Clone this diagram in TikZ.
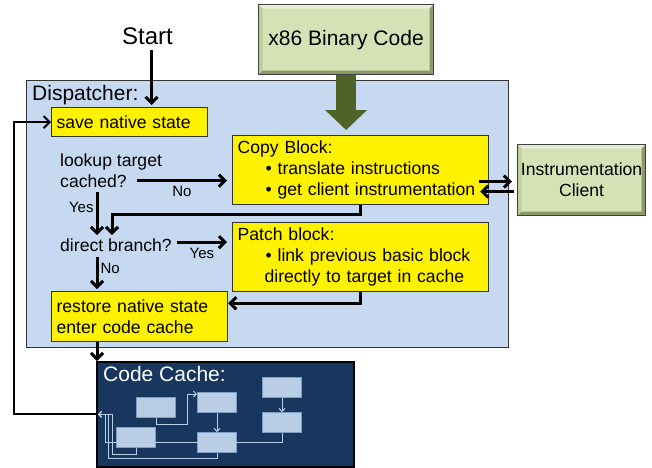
\documentclass[tikz,border=0pt]{standalone}
\usepackage{fontspec}
\setmainfont{Liberation Sans}
\usetikzlibrary{arrows.meta,positioning,calc}
\definecolor{dispblue}{HTML}{C6D9F1}
\definecolor{clientgreen}{HTML}{D5E2B5}
\definecolor{bevellight}{HTML}{E6EDD3}
\definecolor{bevelside}{HTML}{BFCF98}
\definecolor{beveldark}{HTML}{8A9968}
\definecolor{arrowolive}{HTML}{4F6228}
\definecolor{cachenavy}{HTML}{17375E}
\definecolor{blockblue}{HTML}{B9CDE5}
\definecolor{blockedge}{HTML}{7E9DC6}
\tikzset{
  bodytext/.style={font=\fontsize{17.6}{21}\selectfont},
  headtext/.style={font=\fontsize{21}{25}\selectfont},
  stepbox/.style={draw=black!80,line width=1.2pt,fill=yellow,bodytext,
    align=left,inner xsep=5pt,inner ysep=0pt,anchor=north west},
  bevel/.style={path picture={
    \coordinate (bnw) at (path picture bounding box.north west);
    \coordinate (bne) at (path picture bounding box.north east);
    \coordinate (bsw) at (path picture bounding box.south west);
    \coordinate (bse) at (path picture bounding box.south east);
    \fill[bevellight] (bnw) -- (bne) -- ([shift={(-#1,-#1)}]bne) -- ([shift={(#1,-#1)}]bnw) -- cycle;
    \fill[bevelside] (bnw) -- (bsw) -- ([shift={(#1,#1)}]bsw) -- ([shift={(#1,-#1)}]bnw) -- cycle;
    \fill[beveldark] (bne) -- (bse) -- ([shift={(-#1,#1)}]bse) -- ([shift={(-#1,-#1)}]bne) -- cycle;
    \fill[beveldark] (bsw) -- (bse) -- ([shift={(-#1,#1)}]bse) -- ([shift={(#1,#1)}]bsw) -- cycle;
  }},
  sourcebox/.style={draw=black!75,line width=1.2pt,fill=clientgreen,bevel=4pt,
    align=center,inner sep=2pt,anchor=north west},
  flow/.style={-{Straight Barb[length=6pt,width=12pt]},line width=3pt},
  answer/.style={font=\fontsize{15}{17}\selectfont,inner sep=1pt}
}

\begin{document}
\begin{tikzpicture}[x=1pt,y=-1pt,
  question/.style={bodytext,inner sep=0pt,anchor=base west},
  fragment/.style={draw=blockedge,line width=1pt,fill=blockblue,inner sep=0pt,
    minimum width=39pt,minimum height=20pt,anchor=north west},
  link/.style={draw=blockblue,line width=0.9pt,-{Straight Barb[length=3pt,width=6pt]}}
]
  \useasboundingbox (0,0) rectangle (652,467);

  \node[draw=black!80,line width=1.2pt,fill=dispblue,minimum width=482pt,minimum height=267pt,
    anchor=north west] (dispatcher) at (26,80) {};
  \node[headtext,inner sep=0pt,anchor=base west] (displabel) at (32,100) {Dispatcher:};

  \node[font=\fontsize{24}{28}\selectfont,inner sep=0pt,anchor=base west] (start) at (122,44) {Start};
  \node[sourcebox,headtext,minimum width=175pt,minimum height=70pt] (x86) at (258,4) {x86 Binary Code};
  \node[sourcebox,bodytext,minimum width=128pt,minimum height=71pt] (client) at (517,144)
    {Instrumentation\\Client};

  \node[stepbox,text width=146pt,minimum height=29pt] (save) at (51,107) {save native state};
  \node[stepbox,text width=246pt,minimum height=69pt] (copyblk) at (232,135)
    {Copy Block:\\\hspace*{28pt}• translate instructions\\\hspace*{28pt}• get client instrumentation};
  \node[stepbox,text width=246pt,minimum height=69pt] (patch) at (232,222)
    {Patch block:\\\hspace*{28pt}• link previous basic block\\\hspace*{27pt}directly to target in cache};
  \node[stepbox,text width=166pt,minimum height=50pt] (restore) at (51,291)
    {restore native state\\enter code cache};

  \node[question] (lookup) at (60,166) {lookup target};
  \node[question] (cached) at (60,187) {cached?};
  \node[question] (direct) at (60,251) {direct branch?};

  \node[draw=black,line width=1.5pt,fill=cachenavy,minimum width=257pt,minimum height=105pt,
    anchor=north west] (cache) at (96,361) {};
  \node[headtext,text=white,inner sep=0pt,anchor=base west] (cachelabel) at (103,381) {Code Cache:};
  \node[fragment] (frag1) at (136,397) {};
  \node[fragment] (frag2) at (197,392) {};
  \node[fragment] (frag3) at (262,377) {};
  \node[fragment] (frag4) at (116,427) {};
  \node[fragment] (frag5) at (197,432) {};
  \node[fragment] (frag6) at (262,412) {};

  \draw[link] (frag1.south) -- ++(0,6) -| ([xshift=-10pt,yshift=-2pt]frag2.north west)
    -- ([yshift=-2pt]frag2.north west);
  \draw[link] (frag2.south) -- (frag5.north);
  \draw[link] (frag3.south) -- (frag6.north);
  \draw[link] (frag4.south) -- ++(0,6) -| ([xshift=16pt]cache.west) -- ([xshift=2pt]cache.west);
  \draw[link] (frag5.south) -- ++(0,5) -| ([xshift=12.5pt]cache.west) -- ([xshift=2pt]cache.west);
  \draw[link] (frag6.south) -- ++(0,9) -| ([xshift=9pt]cache.west) -- ([xshift=2pt]cache.west);

  \draw[draw=arrowolive,line width=20pt,-{Triangle[length=20pt,width=42pt,line width=0pt]}]
    (x86.south) -- ([yshift=5pt]x86.south |- copyblk.north);

  \draw[flow] ([xshift=4pt,yshift=-6pt]start.south) -- ([xshift=4pt,yshift=2pt]start.south |- save.north);
  \draw[flow] ([xshift=10pt]cached.east) -- ([xshift=-5pt]cached.east -| copyblk.west)
    node[answer,midway,below=3pt] {No};
  \draw[flow] ([xshift=37pt,yshift=-5pt]cached.south west) -- ([xshift=37pt,yshift=3pt]cached.south west |- direct.north)
    node[answer,pos=0.35,left=1pt] {Yes};
  \draw[flow] (copyblk.south) -- ++(0,9) -| ([xshift=52pt,yshift=3pt]direct.north west);
  \draw[flow] ([xshift=5pt,yshift=2.5pt]direct.east) -- ([xshift=-5pt,yshift=2.5pt]direct.east -| patch.west)
    node[answer,midway,below=3pt] {Yes};
  \draw[flow] ([xshift=37pt,yshift=-6pt]direct.south west) -- ([xshift=37pt,yshift=2pt]direct.south west |- restore.north)
    node[answer,pos=0.35,right=1pt] {No};
  \draw[flow] (patch.south) -- ++(0,11) -- ([yshift=-11pt]patch.south -| restore.east);
  \draw[flow] ([xshift=46pt]restore.south west) -- ([xshift=46pt]restore.south west |- cache.north);
  \draw[flow] ([xshift=-10pt,yshift=-11.5pt]copyblk.east) -- ([xshift=-5pt,yshift=-11.5pt]copyblk.east -| client.west);
  \draw[flow] ([xshift=-3pt,yshift=-21.5pt]copyblk.east -| client.west) -- ([xshift=-9pt,yshift=-21.5pt]copyblk.east);
  \draw[flow,line width=2pt] (cache.west) -- ++(-82,0) |- (save.west);
\end{tikzpicture}
\end{document}
